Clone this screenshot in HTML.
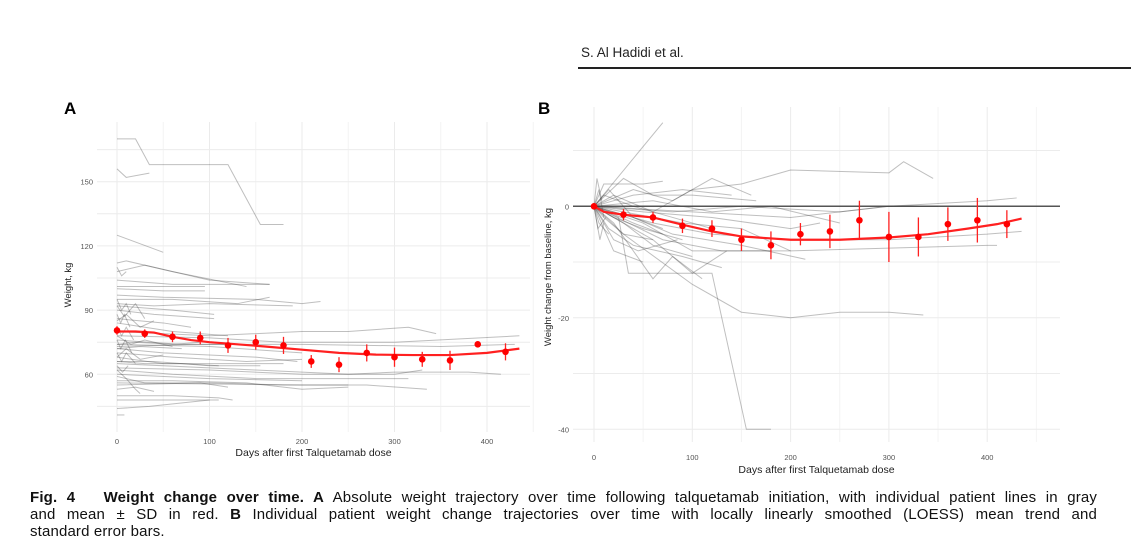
<!DOCTYPE html>
<html><head><meta charset="utf-8"><style>
body{margin:0;width:1131px;height:545px;background:#fff;overflow:hidden;position:relative;font-family:"Liberation Sans",sans-serif}
.cap{position:absolute;left:30px;width:1067px;font-size:15px;letter-spacing:0.15px;line-height:17px;color:#111;white-space:nowrap}
.j{text-align:justify;text-align-last:justify;white-space:normal}
</style></head><body>
<div style="position:absolute;left:581px;top:45px;font-size:13.5px;color:#222">S. Al Hadidi et al.</div>
<div style="position:absolute;left:578px;top:67px;width:553px;height:1.5px;background:#222"></div>
<svg id="fig" width="1131" height="480" style="position:absolute;left:0;top:0"></svg>
<div class="cap j" style="top:489px"><b>Fig. 4&nbsp;&nbsp; Weight change over time. A</b> Absolute weight trajectory over time following talquetamab initiation, with individual patient lines in gray</div>
<div class="cap j" style="top:506px">and mean ± SD in red. <b>B</b> Individual patient weight change trajectories over time with locally linearly smoothed (LOESS) mean trend and</div>
<div class="cap" style="top:523px">standard error bars.</div>
<script>
const daysMean=[0,30,60,90,120,150,180,210,240,270,300,330,360,390,420];
const meanA=[80.5,79,77.5,77,73.5,75,73.5,66,64.5,70,68,67,66.5,74,70.5];
const sdA=[2,2,2.5,3,3.5,3.5,4,3,3.5,4,4.5,3.5,4.5,0,4];
const loessDaysA=[0,20,40,60,80,100,130,160,200,240,280,320,360,400,435];
const loessA=[80,80,79.5,77.5,76,75,74,73,71.5,70,69.2,69,69,70,72];
const meanB=[0,-1.5,-2,-3.5,-4,-6,-7,-5,-4.5,-2.5,-5.5,-5.5,-3.2,-2.5,-3.2];
const seB=[0.6,1,1,1.3,1.5,2,2.5,2,3,3.5,4.5,3.5,3,4,2.5];
const loessDaysB=[0,10,30,60,90,120,150,200,250,300,340,380,410,435];
const loessB=[0,-1,-1.5,-2,-3.3,-4.5,-5.4,-6,-6,-5.6,-5,-4,-3.2,-2.2];
const xTicks=[0,100,200,300,400];
const yTicksA=[60,90,120,150];
const yTicksB=[-40,-20,0];
const linesA=[
[[0,170],[20,170],[35,158],[120,158],[155,130],[180,130]],[[0,156],[10,152],[35,154]],[[0,125],[50,117]],
[[0,112],[10,113],[60,108],[140,101]],[[0,108],[30,111],[100,104],[165,102]],[[0,104],[60,102],[165,102]],
[[0,101],[30,101],[95,101]],[[0,100],[50,99],[95,99]],[[0,97],[50,96],[150,95],[200,93],[220,94]],
[[0,95],[60,95],[130,93],[165,96]],[[0,93],[40,92],[100,93],[190,92]],[[0,92],[60,90],[105,88]],
[[0,90],[40,88],[105,86]],[[0,86],[50,84],[80,82]],[[0,84],[60,80],[120,78]],
[[0,80],[100,78],[200,80],[250,80],[315,82],[345,79]],[[0,78],[100,77],[180,75],[300,75],[435,78]],
[[0,76],[70,74],[200,74],[350,73],[430,74]],[[0,74],[100,73],[200,70]],[[0,73],[80,74],[120,74]],
[[0,72],[50,70],[150,68],[195,66]],[[0,70],[60,68],[140,66],[200,67]],[[0,68],[50,65],[120,65],[180,65]],
[[0,66],[40,66],[100,64],[155,64]],[[0,65],[150,62],[250,60],[300,61],[380,61],[415,60]],
[[0,63],[100,62],[200,60],[300,60],[330,62]],[[0,62],[60,60],[150,58],[270,58],[315,58]],
[[0,60],[100,58],[200,57]],[[0,59],[30,56],[100,56],[180,55],[250,55]],[[0,57],[60,57],[140,56],[200,53],[250,54]],
[[0,56],[200,55],[270,55],[335,53]],[[0,55],[90,56],[120,54]],[[0,53],[20,54],[40,52]],
[[0,50],[60,50],[110,49],[125,48]],[[0,48],[100,48]],[[0,44],[35,45],[100,48],[110,48]],[[0,41],[8,41]],
[[0,95],[5,90],[10,93],[15,88]],[[0,88],[4,84],[8,88],[14,82]],[[0,82],[5,78],[10,82],[18,76]],
[[0,76],[4,72],[9,76],[16,70]],[[0,70],[5,66],[10,70],[20,65]],[[0,64],[6,61],[12,64]],
[[0,92],[8,87],[20,93],[30,86]],[[0,85],[10,88],[25,82],[40,85]],[[0,78],[15,74],[30,76],[60,73]],
[[0,68],[10,72],[25,67],[50,69]],[[0,62],[10,58],[20,53],[25,51]],[[0,110],[5,106],[10,108]],
[[0,74],[20,75],[60,74],[90,75]],[[0,66],[30,65],[70,65],[110,64]],[[0,72],[25,73],[70,72]]];
const linesB=[
[[0,0],[70,15]],[[0,0],[10,4],[50,4],[70,4.5]],[[0,0],[20,2],[60,-1],[100,3],[150,4],[200,6.5],[300,6],[315,8],[345,5]],
[[0,0],[30,5],[60,2],[100,2],[165,1]],[[0,0],[40,3],[80,1],[120,5],[160,2]],
[[0,0],[25,-2],[35,-12],[120,-12],[155,-40],[180,-40]],[[0,0],[30,-5],[100,-14],[150,-19],[200,-20],[250,-19],[300,-19],[335,-19.5]],
[[0,0],[20,-3],[60,-13],[80,-9],[110,-13]],[[0,0],[60,-6],[100,-12],[135,-8]],
[[0,0],[50,-3],[100,-8],[200,-8],[300,-7.5],[400,-7],[410,-7]],[[0,0],[60,-3],[120,-5],[200,-6],[300,-6],[400,-5],[435,-4.5]],
[[0,0],[80,-1],[150,0],[250,-1],[300,0],[400,1],[430,1.5]],[[0,0],[50,-1],[120,-2],[200,-4],[230,-3]],
[[0,0],[40,-2],[80,-5],[150,-7],[215,-9.5]],[[0,0],[30,-1],[90,-3],[150,-4],[200,-8]],
[[0,0],[60,1],[120,-1],[180,0],[250,-3]],[[0,0],[70,-6],[130,-8],[180,-8]],[[0,0],[100,-1],[200,-2],[300,0],[350,0]],
[[0,0],[15,-4],[40,-7],[90,-9],[130,-11]],[[0,0],[10,2],[40,0],[80,-2],[120,-4]],
[[0,0],[5,-3],[15,-5]],[[0,0],[5,3],[10,-2]],[[0,0],[4,-4],[12,-2]],[[0,0],[3,5],[8,1]],[[0,0],[6,-6],[10,-3]],
[[0,0],[20,-8],[50,-10]],[[0,0],[15,3],[40,-2],[70,-4]],[[0,0],[30,-3],[60,-7],[100,-9]],
[[0,0],[20,-6],[45,-8],[85,-6]],[[0,0],[40,2],[90,3],[140,2]],
[[0,0],[20,-2],[50,-4],[90,-6]],[[0,0],[15,-1],[40,-3],[70,-5]],[[0,0],[10,-2],[30,-5],[60,-6]]];

const NS='http://www.w3.org/2000/svg', svg=document.getElementById('fig');
function el(t,a,p){const e=document.createElementNS(NS,t);for(const k in a)e.setAttribute(k,a[k]);(p||svg).appendChild(e);return e;}
function panel(o){
  const g=el('g',{});
  
  
  const X=d=>o.x0+d*o.kx, Y=v=>o.y0-(v-o.v0)*o.ky;
  for(let d=0;d<=450;d+=50){const l=el('line',{x1:X(d),x2:X(d),y1:o.top,y2:o.bot,stroke:d%100?'#f4f4f4':'#ebebeb','stroke-width':1},g);
    }
  for(let v=o.gmin;v<=o.gmax;v+=o.gstep){const y=Y(v);if(y<o.top||y>o.bot)continue;const l=el('line',{x1:o.left,x2:o.right,y1:y,y2:y,stroke:'#ececec','stroke-width':1},g);
    }
  if(o.zero){const l=el('line',{x1:o.left,x2:o.right,y1:Y(0),y2:Y(0),stroke:'#555','stroke-width':1.5},g);
    }
  o.lines.forEach(L=>{const p=el('polyline',{points:L.map(q=>X(q[0])+','+Y(q[1])).join(' '),fill:'none',stroke:'rgba(60,60,60,0.33)','stroke-width':1},g);
    });
  const lo=el('polyline',{points:o.ld.map((d,i)=>X(d)+','+Y(o.lv[i])).join(' '),fill:'none',stroke:'#ff2020','stroke-width':2.2},g);
  
  daysMean.forEach((d,i)=>{const m=o.m[i],s=o.s[i];
    if(s>0){const b=el('line',{x1:X(d),x2:X(d),y1:Y(m-s),y2:Y(m+s),stroke:'#ff2020','stroke-width':1.3},g);
      }
    const c=el('circle',{cx:X(d),cy:Y(m),r:3.3,fill:'#ff0000'},g);
    });
  xTicks.forEach(t=>{const tx=el('text',{x:X(t),y:o.bot+o.tk,'font-size':7.5,fill:'#555','text-anchor':'middle'},g);tx.textContent=t;
    });
  o.yt.forEach(t=>{const tx=el('text',{x:o.left-4,y:Y(t)+3,'font-size':7.5,fill:'#555','text-anchor':'end'},g);tx.textContent=t;
    });
  const xt=el('text',{x:(o.left+o.right)/2,y:o.bot+o.tt,'font-size':10.5,fill:'#222','text-anchor':'middle'},g);xt.textContent='Days after first Talquetamab dose';
  
  const yt=el('text',{x:0,y:0,'font-size':9.5,fill:'#222','text-anchor':'middle',transform:`translate(${o.ytx},${o.yty}) rotate(-90)`},g);yt.textContent=o.ytitle;
  
  const pl=el('text',{x:o.lx,y:114,'font-size':17,'font-weight':'bold',fill:'#000'},g);pl.textContent=o.letter;
  
}
panel({name:'panel-a',x0:117,kx:0.925,y0:374.3,v0:60,ky:2.14,left:97,right:530,top:122,bot:432,gmin:45,gmax:165,gstep:15,tk:12,tt:24,
  lines:linesA,ld:loessDaysA,lv:loessA,m:meanA,s:sdA,yt:yTicksA,ytitle:'Weight, kg',ytx:71,yty:285,letter:'A',lx:64,zero:false});
panel({name:'panel-b',x0:594,kx:0.983,y0:206.3,v0:0,ky:5.575,left:573,right:1060,top:107,bot:442,gmin:-40,gmax:10,gstep:10,tk:18,tt:31,
  lines:linesB,ld:loessDaysB,lv:loessB,m:meanB,s:seB,yt:yTicksB,ytitle:'Weight change from baseline, kg',ytx:551,yty:277,letter:'B',lx:538,zero:true});
</script>
</body></html>
